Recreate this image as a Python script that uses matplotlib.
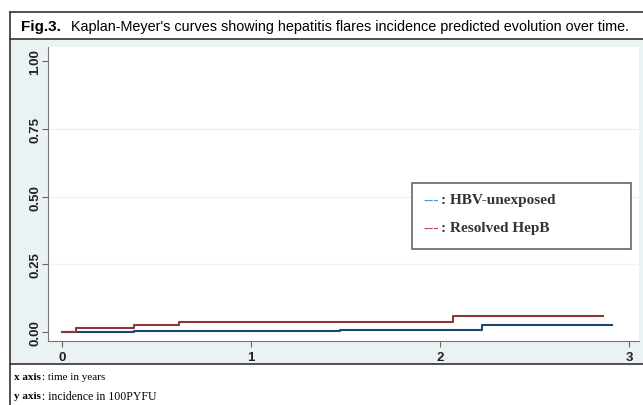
import matplotlib.pyplot as plt
from matplotlib.patches import Rectangle
from matplotlib.lines import Line2D

# step curves (time in years, cumulative incidence)
hbv_t = [0, 0.38, 1.47, 2.22, 2.91]
hbv_y = [0, 0.003, 0.008, 0.026, 0.026]
hep_t = [0, 0.074, 0.38, 0.62, 2.07, 2.86]
hep_y = [0, 0.015, 0.026, 0.037, 0.059, 0.059]

yticks = [0, 0.25, 0.5, 0.75, 1.0]
ytick_labels = ["0.00", "0.25", "0.50", "0.75", "1.00"]
xticks = [0, 1, 2, 3]

navy = "#1a476f"
maroon = "#90353b"
bg = "#eaf2f3"

fig = plt.figure(figsize=(6.43, 4.06), dpi=100)
W, H = 643, 406

def fx(px):
    return px / W

def fy(py):
    return 1 - py / H

# graph region background
fig.patches.append(Rectangle((fx(11), fy(365)), fx(632), (365 - 40) / H,
                             transform=fig.transFigure, facecolor=bg, edgecolor="none", zorder=-5))
# frame lines
for xs, ys in [([10, 643], [13, 13]), ([10, 643], [40, 40]), ([10, 643], [365, 365]),
               ([10, 10], [13, 406])]:
    fig.add_artist(Line2D([fx(x) for x in xs], [fy(y) for y in ys], transform=fig.transFigure,
                          color="#333333", lw=1.2, zorder=5))

ax = fig.add_axes([fx(48), fy(342), fx(639 - 48), (342 - 48) / H])
ax.set_zorder(1)
ax.set_facecolor("white")
ax.step(hbv_t, hbv_y, where="post", color=navy, lw=1.5)
ax.step(hep_t, hep_y, where="post", color=maroon, lw=1.5)

ax.set_xlim(-0.074, 3.053)
ax.set_ylim(-0.033, 1.052)
ax.set_yticks(yticks)
ax.set_yticklabels(ytick_labels, rotation=90, va="center")
ax.set_xticks(xticks)
for lab in ax.get_xticklabels() + ax.get_yticklabels():
    lab.set_fontweight("bold")
    lab.set_fontsize(9.5)
    lab.set_color("#222222")
    lab.set_family("Liberation Sans")
ax.tick_params(colors="#666666", length=4, labelcolor="#222222")
ax.tick_params(axis="y", pad=1)
for y in [0.25, 0.5, 0.75]:
    ax.axhline(y, color="#eef2f2", lw=1, zorder=0)
for s in ["top", "right"]:
    ax.spines[s].set_visible(False)
for s in ["left", "bottom"]:
    ax.spines[s].set_color("#777777")

# legend box drawn like the inserted text box
fig.add_artist(Rectangle((fx(412), fy(250)), fx(631 - 412), (250 - 184) / H,
                         transform=fig.transFigure, facecolor="white", edgecolor="#666666",
                         lw=1.2, zorder=3))
fig.text(fx(423), fy(201), "---", color="#4a90c0", fontsize=11, family="Liberation Serif",
         va="center", zorder=4)
fig.text(fx(441), fy(201), ": HBV-unexposed", color="#333333", fontsize=11,
         family="Liberation Serif", fontweight="bold", va="center", zorder=4)
fig.text(fx(423), fy(229), "---", color="#c0404a", fontsize=11, family="Liberation Serif",
         va="center", zorder=4)
fig.text(fx(441), fy(229), ": Resolved HepB", color="#333333", fontsize=11,
         family="Liberation Serif", fontweight="bold", va="center", zorder=4)

# title
fig.text(fx(21), fy(27), "Fig.3.", fontsize=11, fontweight="bold", family="Liberation Sans",
         va="center")
fig.text(fx(71), fy(27), "Kaplan-Meyer's curves showing hepatitis flares incidence predicted evolution over time.",
         fontsize=10.4, family="Liberation Sans", va="center")

# notes
fig.text(fx(14), fy(378), "x axis", fontsize=8, fontweight="bold", family="Liberation Serif", va="center")
fig.text(fx(42), fy(378), ": time in years", fontsize=8, family="Liberation Serif", va="center")
fig.text(fx(14), fy(397), "y axis", fontsize=8, fontweight="bold", family="Liberation Serif", va="center")
fig.text(fx(42), fy(397), ": incidence in 100PYFU", fontsize=8.5, family="Liberation Serif", va="center")

fig.savefig("out.png", dpi=100)
